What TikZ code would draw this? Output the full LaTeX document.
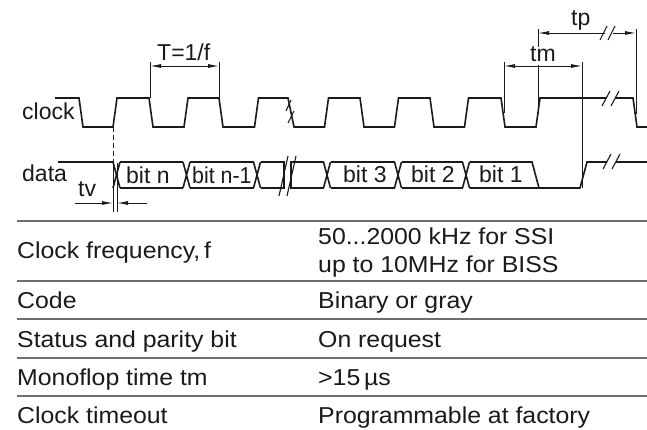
\documentclass[tikz,border=0pt]{standalone}
\usepackage{fontspec}
\setmainfont{Liberation Sans}
\newfontfamily\tabfont{Liberation Sans}[FakeStretch=1.08]
\newfontfamily\narrowfont{Liberation Sans}[FakeStretch=0.93]
\usetikzlibrary{arrows.meta}
\definecolor{ink}{HTML}{1A1A1A}
\definecolor{rule}{HTML}{6E6E6E}
\tikzset{
  sig/.style={line width=1.6pt, draw=ink, line join=miter},
  dimln/.style={line width=0.9pt, draw=ink},
  lbl/.style={anchor=base west, inner sep=0pt, text=ink, font=\fontsize{23}{23}\selectfont},
  tlbl/.style={anchor=base west, inner sep=0pt, text=ink, font=\tabfont\fontsize{23}{23}\selectfont},
  tabrule/.style={line width=1.3pt, draw=rule},
  brk/.style={line width=1.1pt, draw=ink}
}
\begin{document}
\begin{tikzpicture}[x=1pt,y=-1pt]
\useasboundingbox (0,0) rectangle (647,430);
\fill[white] (0,0) rectangle (647,430);

% ---------- clock signal ----------
\draw[sig] (55,98) -- (79,98) -- (83,127) -- (113,127) -- (117,98) -- (149,98) -- (153,127)
  -- (184,127) -- (188,98) -- (219,98) -- (223,127) -- (254.5,127) -- (258.5,98) -- (288,98)
  -- (294,127) -- (324.5,127) -- (328.5,98) -- (360,98) -- (364,127) -- (394.5,127) -- (398.5,98)
  -- (430,98) -- (434,127) -- (464.5,127) -- (468.5,98) -- (501,98) -- (505,127) -- (536,127)
  -- (540,98) -- (606,98);
\draw[sig] (615,98) -- (633,98) -- (637,127) -- (650,127);
% clock breaks
\draw[brk] (286,111) -- (291,100) (288,123) -- (294,111);
\draw[brk] (602,106) -- (610,91) (611,106) -- (619,91);

% ---------- data signal ----------
\draw[sig] (58,162) -- (113,162) -- (120,188);
\draw[sig] (113,188) -- (120,162);
\foreach \c in {186.5,257,327,398,466}{
  \draw[sig] (\c-3.5,162) -- (\c+3.5,188) (\c-3.5,188) -- (\c+3.5,162);
}
\draw[sig] (120,162) -- (183,162) (120,188) -- (183,188);
\draw[sig] (190,162) -- (253.5,162) (190,188) -- (253.5,188);
\draw[sig] (260.5,162) -- (284,162) -- (284,188) -- (260.5,188);
\draw[sig] (323.5,162) -- (291,162) -- (291,188) -- (323.5,188);
\draw[sig] (330.5,162) -- (394.5,162) (330.5,188) -- (394.5,188);
\draw[sig] (401.5,162) -- (462.5,162) (401.5,188) -- (462.5,188);
\draw[sig] (469.5,162) -- (532,162) -- (539,188);
\draw[sig] (469.5,188) -- (580,188) -- (587,162) -- (607,162);
\draw[sig] (616,162) -- (650,162);
\draw[brk] (279,196) -- (288,156) (287,196) -- (296,156);
\draw[brk] (603,169) -- (611,154) (612,169) -- (620,154);

% ---------- coordinates ----------
\coordinate (tvtop) at (113,127);
\coordinate (tvmid) at (113,160);
\coordinate (tvbotA) at (113,212);
\coordinate (tvtopB) at (117,163);
\coordinate (tvbotB) at (117,212);
\coordinate (tvL) at (75,203);
\coordinate (tvA) at (113,203);
\coordinate (tvR) at (147,203);
\coordinate (tvB) at (117,203);

\coordinate (Ta) at (150,62);
\coordinate (Tab) at (150,98);
\coordinate (Tb) at (219,62);
\coordinate (Tbb) at (219,98);
\coordinate (TaA) at (150,66);
\coordinate (TbA) at (219,66);

\coordinate (tma) at (504,62);
\coordinate (tmab) at (504,113);
\coordinate (tmb) at (582,62);
\coordinate (tmbb) at (582,188);
\coordinate (tmaA) at (504,66);
\coordinate (tmbA) at (582,66);

\coordinate (tpa) at (538,29);
\coordinate (tpa1) at (538,47);
\coordinate (tpa2) at (538,65);
\coordinate (tpab) at (538,114);
\coordinate (tpb) at (636,29);
\coordinate (tpbb) at (636,114);
\coordinate (tpaA) at (538,33);
\coordinate (tpg1) at (605,33);
\coordinate (tpg2) at (613,33);
\coordinate (tpbA) at (636,33);

% ---------- dimension lines ----------
\draw[dimln, dashed, dash pattern=on 5pt off 3pt] (tvtop) -- (tvmid);
\draw[dimln] (tvmid) -- (tvbotA);
\draw[dimln] (tvtopB) -- (tvbotB);
\draw[dimln, -{Latex[length=11pt,width=4pt]}] (tvL) -- (tvA);
\draw[dimln, -{Latex[length=11pt,width=4pt]}] (tvR) -- (tvB);

\draw[dimln] (Ta) -- (Tab) (Tb) -- (Tbb);
\draw[dimln, {Latex[length=11pt,width=4pt]}-{Latex[length=11pt,width=4pt]}] (TaA) -- (TbA);

\draw[dimln] (tma) -- (tmab) (tmb) -- (tmbb);
\draw[dimln, {Latex[length=11pt,width=4pt]}-{Latex[length=11pt,width=4pt]}] (tmaA) -- (tmbA);

\draw[dimln] (tpa) -- (tpa1) (tpa2) -- (tpab) (tpb) -- (tpbb);
\draw[dimln, {Latex[length=11pt,width=4pt]}-] (tpaA) -- (tpg1);
\draw[dimln, -{Latex[length=11pt,width=4pt]}] (tpg2) -- (tpbA);
\draw[brk] (600,40) -- (607,26) (608,40) -- (615,26);

% ---------- labels ----------
\node[lbl] (lclock) at (22,120) {clock};
\node[lbl] (ldata) at (22,182) {data};
\node[lbl] (ltv) at (78,197) {tv};
\node[lbl] (lT) at (157,61) {T=1/f};
\node[lbl] (lbn) at (126,184) {bit n};
\node[lbl, font=\narrowfont\fontsize{23}{23}\selectfont] (lbn1) at (192,184) {bit n-1};
\node[lbl] (lb3) at (343,183) {bit 3};
\node[lbl] (lb2) at (411,183) {bit 2};
\node[lbl] (lb1) at (479,183) {bit 1};
\node[lbl] (ltm) at (530,62) {tm};
\node[lbl] (ltp) at (571,26) {tp};

% ---------- table ----------
\coordinate (r0l) at (17,221); \coordinate (r0r) at (647,221);
\coordinate (r1l) at (17,281); \coordinate (r1r) at (647,281);
\coordinate (r2l) at (17,319); \coordinate (r2r) at (647,319);
\coordinate (r3l) at (17,358); \coordinate (r3r) at (647,358);
\coordinate (r4l) at (17,396); \coordinate (r4r) at (647,396);
\draw[tabrule] (r0l) -- (r0r) (r1l) -- (r1r) (r2l) -- (r2r) (r3l) -- (r3r) (r4l) -- (r4r);

\node[tlbl] (k1) at (17,258) {Clock frequency,\,f};
\node[tlbl] (v1a) at (318,244) {50...2000 kHz for SSI};
\node[tlbl] (v1b) at (318,272) {up to 10MHz for BISS};
\node[tlbl] (k2) at (17,308) {Code};
\node[tlbl] (v2) at (318,308) {Binary or gray};
\node[tlbl] (k3) at (17,347) {Status and parity bit};
\node[tlbl] (v3) at (318,347) {On request};
\node[tlbl] (k4) at (17,385) {Monoflop time tm};
\node[tlbl] (v4) at (318,385) {>15\,µs};
\node[tlbl] (k5) at (17,423) {Clock timeout};
\node[tlbl] (v5) at (318,423) {Programmable at factory};
\end{tikzpicture}
\end{document}
